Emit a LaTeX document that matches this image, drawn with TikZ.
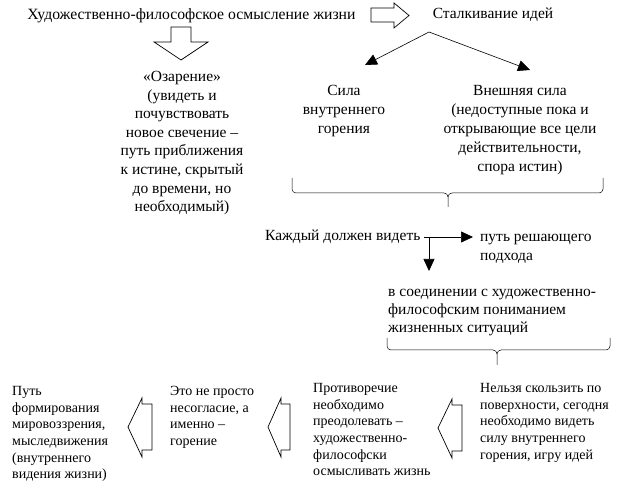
\documentclass[tikz,border=0pt]{standalone}
\usepackage{fontspec}
\setmainfont{Liberation Serif}
\newfontfamily\timesru{Liberation Serif}
\usetikzlibrary{arrows.meta,positioning,calc}

\tikzset{
  big/.style={font=\timesru\fontsize{15.5}{19}\selectfont, inner sep=0pt, align=center},
  small/.style={font=\timesru\fontsize{14}{16.7}\selectfont, inner sep=0pt, align=left, anchor=north west},
  hollow/.style={draw, line width=0.7pt, fill=white, line join=miter},
  tip/.style={-{Triangle[length=12pt,width=11pt]}, line width=0.6pt},
  brace/.style={line width=0.5pt}
}

\begin{document}
\begin{tikzpicture}[x=1pt,y=-1pt]
\useasboundingbox (0,0) rectangle (624,486);

% top line
\node[big, anchor=north, font=\timesru\fontsize{15.7}{19}\selectfont] (title) at (191.5,8) {Художественно-философское осмысление жизни};
\node[big, anchor=north] (stalk) at (493,8) {Сталкивание идей};
\draw[hollow] (371,8) -- (394,8) -- (394,3) -- (409,15.5) -- (394,28) -- (394,22) -- (371,22) -- cycle;

% down to insight
\draw[hollow] (171,27) -- (191,27) -- (191,42) -- (208,42) -- (181,60) -- (154,42) -- (171,42) -- cycle;
\node[big, anchor=north, font=\timesru\fontsize{15.5}{18.6}\selectfont] (ozar) at (182,71) {«Озарение»\\(увидеть и\\почувствовать\\новое свечение –\\путь приближения\\к истине, скрытый\\до времени, но\\необходимый)};

% two forces
\coordinate (apex) at (429,32);
\coordinate (silatop) at (365,65);
\coordinate (vneshtop) at (530,70);
\draw[tip] (apex) -- (silatop);
\draw[tip] (apex) -- (vneshtop);
\node[big, anchor=north] (sila) at (344,85) {Сила\\внутреннего\\горения};
\node[big, anchor=north] (vnesh) at (520,85) {Внешняя сила\\(недоступные пока и\\открывающие все цели\\действительности,\\спора истин)};

% first brace
\draw[brace] (292,178) -- (292,189) arc (180:90:4) -- (444,193) arc (270:360:4) -- (448,207);
\draw[brace] (603,178) -- (603,189) arc (0:90:4) -- (452,193) arc (270:180:4);

% everyone must see
\node[big, anchor=north west] (kazhd) at (265,230) {Каждый должен видеть};
\node[big, anchor=north west, align=left] (put) at (480,234) {путь решающего\\подхода};
\coordinate (corner) at (429,237);
\draw[tip] ($(corner)+(-5,0)$) -- (473,237);
\draw[tip] (corner) -- (429,271);
\node[big, anchor=north west, align=left, font=\timesru\fontsize{15.5}{18}\selectfont] (soed) at (388,289) {в соединении с художественно-\\философским пониманием\\жизненных ситуаций};

% second brace
\draw[brace] (387,338) -- (387,346) arc (180:90:4) -- (493,350) arc (270:360:4) -- (497,365);
\draw[brace] (610,338) -- (610,346) arc (0:90:4) -- (501,350) arc (270:180:4);

% bottom row
\node[small] (nelz) at (480,383) {Нельзя скользить по\\поверхности, сегодня\\необходимо видеть\\силу внутреннего\\горения, игру идей};
\node[small] (protiv) at (313,383) {Противоречие\\необходимо\\преодолевать –\\художественно-\\философски\\осмысливать жизнь};
\node[small] (eto) at (170,386) {Это не просто\\несогласие, а\\именно –\\горение};
\node[small] (putform) at (12,386) {Путь\\формирования\\мировоззрения,\\мыследвижения\\(внутреннего\\видения жизни)};

\draw[hollow] (462,405) -- (452,405) -- (452,399) -- (438,428) -- (452,458) -- (452,451) -- (462,451) -- cycle;
\draw[hollow] (290,404) -- (281,404) -- (281,398) -- (268,427) -- (281,457) -- (281,450) -- (290,450) -- cycle;
\draw[hollow] (152,404) -- (142,404) -- (142,398) -- (128,427) -- (142,457) -- (142,450) -- (152,450) -- cycle;

\end{tikzpicture}
\end{document}
